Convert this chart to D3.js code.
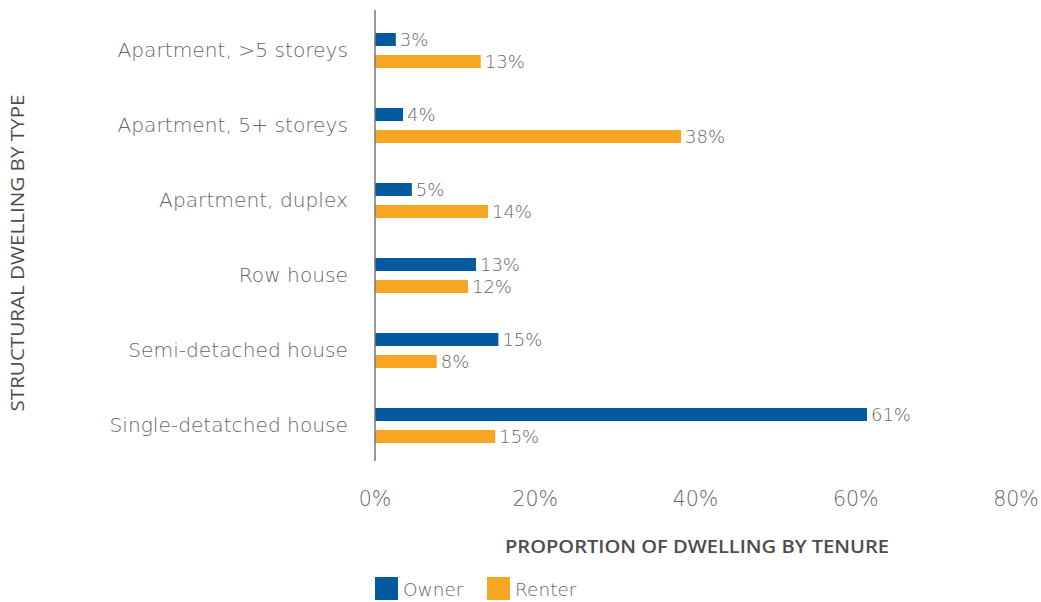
<!DOCTYPE html>
<html>
<head>
<meta charset="utf-8">
<script src="https://cdn.jsdelivr.net/npm/d3@7"></script>
<style>
  body { margin: 0; background: #fff; }
  text { font-family: "DejaVu Sans", "Open Sans", sans-serif; font-weight: 200; }
</style>
</head>
<body>
<div id="chart"></div>
<script>
const categories = [
  "Apartment, >5 storeys",
  "Apartment, 5+ storeys",
  "Apartment, duplex",
  "Row house",
  "Semi-detached house",
  "Single-detatched house"
];
const owner = [2.6, 3.5, 4.6, 12.6, 15.4, 61.4];
const renter = [13.2, 38.2, 14.1, 11.6, 7.7, 15.0];
const series = ["Owner", "Renter"];
const xTicks = [0, 20, 40, 60, 80];

const w = 1041;
const h = 602;
const marginLeft = 375;
const marginRight = 25;
const marginTop = 12;
const marginBottom = 140;

const color = d3.scaleOrdinal().domain(series).range(["#035a9e", "#f6a623"]);

const x = d3.scaleLinear().domain([0, 80]).range([marginLeft, w - marginRight]);

const y = d3
  .scaleBand()
  .domain(categories)
  .range([marginTop, h - marginBottom]);

// owner / renter bars inside each category band
const y1 = d3.scaleBand().domain(series).range([21, 56]).paddingInner(0.41);

const rows = categories.map(function (c, i) {
  return { cat: c, values: [{ key: "Owner", v: owner[i] }, { key: "Renter", v: renter[i] }] };
});

const svg = d3.select("#chart").append("svg").attr("width", w).attr("height", h);

// category labels
svg
  .append("g")
  .selectAll("text")
  .data(categories)
  .enter()
  .append("text")
  .attr("x", 348)
  .attr("y", function (d) { return y(d) + 38; })
  .attr("dy", "0.35em")
  .attr("text-anchor", "end")
  .attr("fill", "#666")
  .attr("font-size", 20.2)
  .text(function (d) { return d; });

const group = svg
  .append("g")
  .selectAll("g")
  .data(rows)
  .enter()
  .append("g")
  .attr("transform", function (d) { return `translate(0,${y(d.cat)})`; });

group
  .selectAll("rect")
  .data(function (d) { return d.values; })
  .enter()
  .append("rect")
  .attr("x", x(0))
  .attr("y", function (d) { return y1(d.key); })
  .attr("height", y1.bandwidth())
  .attr("width", function (d) { return x(d.v) - x(0); })
  .attr("fill", function (d) { return color(d.key); });

group
  .selectAll("text")
  .data(function (d) { return d.values; })
  .enter()
  .append("text")
  .attr("x", function (d) { return x(d.v) + 4; })
  .attr("y", function (d) { return y1(d.key) + y1.bandwidth() / 2; })
  .attr("dy", "0.35em")
  .attr("fill", "#666")
  .attr("font-size", 18)
  .text(function (d) { return Math.round(d.v) + "%"; });

// vertical axis line
svg
  .append("line")
  .attr("x1", x(0))
  .attr("x2", x(0))
  .attr("y1", 10)
  .attr("y2", 461)
  .attr("stroke", "#777")
  .attr("stroke-width", 1.5);

// x tick labels
svg
  .append("g")
  .selectAll("text")
  .data(xTicks)
  .enter()
  .append("text")
  .attr("x", function (d) { return x(d); })
  .attr("y", 499)
  .attr("dy", "0.35em")
  .attr("text-anchor", "middle")
  .attr("fill", "#666")
  .attr("font-size", 20.5)
  .text(function (d) { return d + "%"; });

// axis titles
svg
  .append("text")
  .attr("x", 697)
  .attr("y", 547)
  .attr("dy", "0.35em")
  .attr("text-anchor", "middle")
  .attr("fill", "#4d4d4d")
  .attr("font-size", 17.5)
  .style("font-family", "'Open Sans', sans-serif")
  .style("font-weight", 600)
  .attr("textLength", 384)
  .attr("lengthAdjust", "spacingAndGlyphs")
  .text("PROPORTION OF DWELLING BY TENURE");

svg
  .append("text")
  .attr("transform", "translate(18,253) rotate(-90)")
  .attr("dy", "0.35em")
  .attr("text-anchor", "middle")
  .attr("fill", "#4d4d4d")
  .attr("font-size", 17.5)
  .style("font-family", "'Open Sans', sans-serif")
  .style("font-weight", 400)
  .attr("textLength", 317)
  .attr("lengthAdjust", "spacingAndGlyphs")
  .text("STRUCTURAL DWELLING BY TYPE");

// legend
const legend = svg
  .append("g")
  .selectAll("g")
  .data(series)
  .enter()
  .append("g")
  .attr("transform", function (d, i) { return `translate(${375 + i * 112},577)`; });

legend
  .append("rect")
  .attr("width", 23)
  .attr("height", 23)
  .attr("fill", function (d) { return color(d); });

legend
  .append("text")
  .attr("x", 28)
  .attr("y", 13)
  .attr("dy", "0.35em")
  .attr("fill", "#666")
  .attr("font-size", 18.5)
  .text(function (d) { return d; });
</script>
</body>
</html>
